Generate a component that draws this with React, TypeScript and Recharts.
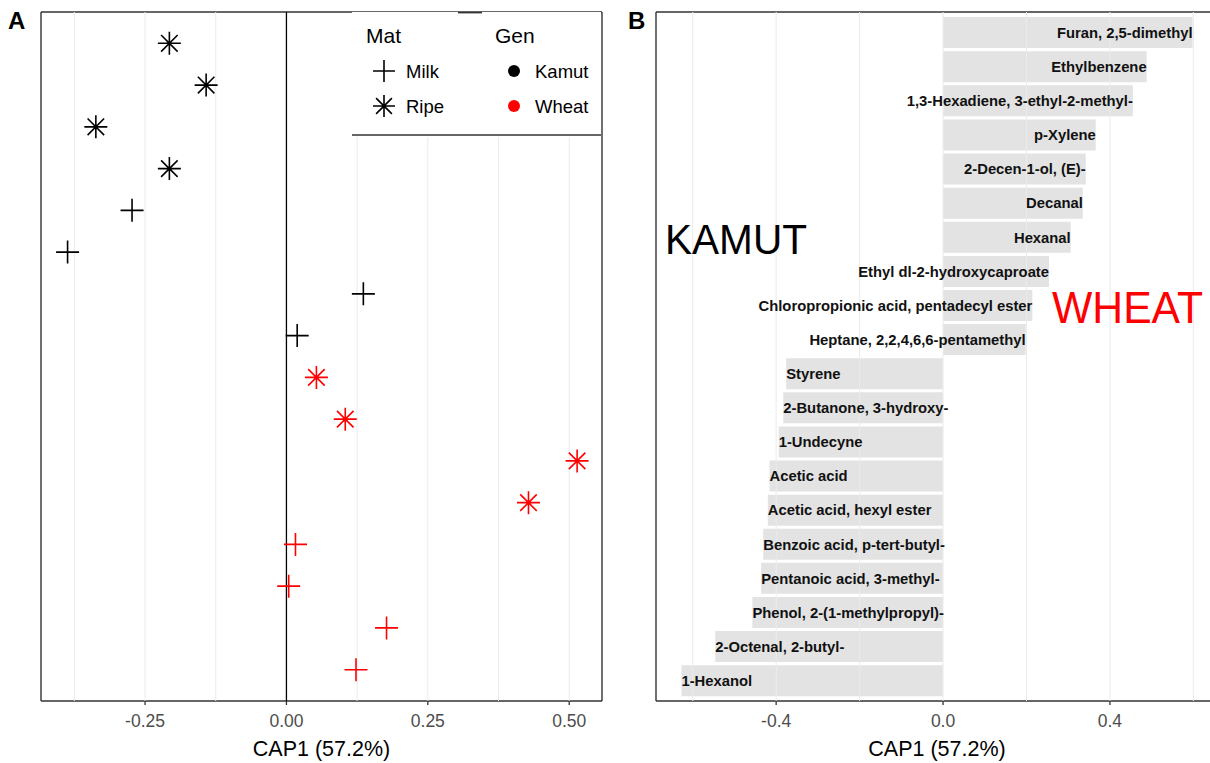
import React from 'react';
import {
  ScatterChart, Scatter, BarChart, Bar, XAxis, YAxis, CartesianGrid,
  ReferenceLine, Legend, LabelList,
} from 'recharts';

// Panel A: CAP1 score of each sample, listed top to bottom
const kamutRipe = [-0.207, -0.142, -0.337, -0.207];
const kamutMilk = [-0.273, -0.387, 0.136, 0.019];
const wheatRipe = [0.053, 0.104, 0.514, 0.428];
const wheatMilk = [0.016, 0.004, 0.177, 0.123];

const scoreTicks = [-0.25, 0, 0.25, 0.5];
const scoreMinor = [-0.375, -0.125, 0.125, 0.375];

// Panel B: loading of each compound on CAP1
const compounds = [
  'Furan, 2,5-dimethyl',
  'Ethylbenzene',
  '1,3-Hexadiene, 3-ethyl-2-methyl-',
  'p-Xylene',
  '2-Decen-1-ol, (E)-',
  'Decanal',
  'Hexanal',
  'Ethyl dl-2-hydroxycaproate',
  'Chloropropionic acid, pentadecyl ester',
  'Heptane, 2,2,4,6,6-pentamethyl',
  'Styrene',
  '2-Butanone, 3-hydroxy-',
  '1-Undecyne',
  'Acetic acid',
  'Acetic acid, hexyl ester',
  'Benzoic acid, p-tert-butyl-',
  'Pentanoic acid, 3-methyl-',
  'Phenol, 2-(1-methylpropyl)-',
  '2-Octenal, 2-butyl-',
  '1-Hexanol',
];
const loadings = [
  0.598, 0.488, 0.455, 0.366, 0.342, 0.335, 0.306, 0.254, 0.214, 0.198,
  -0.376, -0.383, -0.394, -0.416, -0.42, -0.431, -0.436, -0.457, -0.546, -0.627,
];
const loadTicks = [-0.4, 0, 0.4];
const loadMinor = [-0.6, -0.2, 0.2, 0.6];

const RED = '#ff0000';
const GRID = '#ebebeb';
const FRAME = '#333333';

const groups = [
  { values: kamutRipe, color: '#000000', ripe: true },
  { values: kamutMilk, color: '#000000', ripe: false },
  { values: wheatRipe, color: RED, ripe: true },
  { values: wheatMilk, color: RED, ripe: false },
];
let counter = 0;
const scoreRows = groups.map((g) => g.values.map((x) => ({ x, y: ++counter })));

const barRows = compounds.map((name, i) => ({ name, value: loadings[i] }));

const plusPath = (cx: number, cy: number, r: number) =>
  `M${cx - r},${cy}H${cx + r}M${cx},${cy - r}V${cy + r}`;
const starPath = (cx: number, cy: number, r: number) => {
  const d = r * 0.72;
  return plusPath(cx, cy, r) +
    `M${cx - d},${cy - d}L${cx + d},${cy + d}M${cx - d},${cy + d}L${cx + d},${cy - d}`;
};

const marker = (color: string, ripe: boolean) => (props: any) => {
  const { cx, cy } = props;
  if (cx == null || cy == null) return <g />;
  return (
    <path d={ripe ? starPath(cx, cy, 11.5) : plusPath(cx, cy, 11.5)}
      stroke={color} strokeWidth={1.6} fill="none" />
  );
};

const frameY = ({ offset }: any) => [offset.top, offset.top + offset.height];
const frameX = ({ offset }: any) => [offset.left, offset.left + offset.width];

const LegendBox = () => (
  <svg width={249} height={125} style={{ display: 'block' }}>
    <rect x={0} y={0} width={249} height={125} fill="#fff" />
    <line x1={106} x2={130} y1={0.7} y2={0.7} stroke={FRAME} strokeWidth={1.4} />
    <line x1={0} x2={249} y1={123} y2={123} stroke={FRAME} strokeWidth={1.6} />
    <text x={14} y={31} fontSize={21} fill="#000">Mat</text>
    <text x={143} y={31} fontSize={21} fill="#000">Gen</text>
    <path d={plusPath(32, 59, 11)} stroke="#000" strokeWidth={1.6} fill="none" />
    <path d={starPath(32, 94, 11)} stroke="#000" strokeWidth={1.6} fill="none" />
    <text x={54} y={65.5} fontSize={18.5} fill="#000">Milk</text>
    <text x={54} y={100.5} fontSize={18.5} fill="#000">Ripe</text>
    <circle cx={162} cy={59} r={6} fill="#000" />
    <circle cx={162} cy={94} r={6} fill={RED} />
    <text x={183} y={65.5} fontSize={18.5} fill="#000">Kamut</text>
    <text x={183} y={100.5} fontSize={18.5} fill="#000">Wheat</text>
  </svg>
);

const BarLabel = (props: any) => {
  const vb = props.viewBox || {};
  const x = Number(props.x ?? vb.x);
  const y = Number(props.y ?? vb.y);
  const w = Number(props.width ?? vb.width);
  const h = Number(props.height ?? vb.height);
  const lo = Math.min(x, x + w);
  const hi = Math.max(x, x + w);
  const positive = loadings[props.index] >= 0;
  return (
    <text x={positive ? hi : lo} y={y + h / 2} dy="0.36em"
      textAnchor={positive ? 'end' : 'start'}
      fontSize={14.8} fontWeight="bold" fill="#111">
      {props.value}
    </text>
  );
};

const tickStyle = { fill: '#4d4d4d', fontSize: 17.5 };
const titleLabel = { value: 'CAP1 (57.2%)', position: 'insideBottom' as const, offset: 7, fill: '#000', fontSize: 21.5 };

export default function App() {
  return (
    <div style={{
      position: 'absolute', left: 0, top: 0, width: 1210, height: 763, overflow: 'hidden',
      background: '#fff', fontFamily: '"Liberation Sans", Arial, sans-serif',
    }}>
      <div style={{ position: 'absolute', left: 0, top: 0 }}>
        <ScatterChart width={620} height={763} margin={{ top: 12, right: 18, bottom: 0, left: 41 }}>
          {scoreMinor.concat(scoreTicks).map((v) => (
            <ReferenceLine key={'g' + v} x={v} stroke={GRID} strokeWidth={1} />
          ))}
          <ReferenceLine x={0} stroke="#000" strokeWidth={1.3} />
          <CartesianGrid stroke={FRAME} strokeWidth={1.4}
            horizontalCoordinatesGenerator={frameY} verticalCoordinatesGenerator={frameX} />
          <XAxis type="number" dataKey="x" domain={[-0.434, 0.558]} allowDataOverflow
            ticks={scoreTicks} tickFormatter={(v: number) => v.toFixed(2)}
            axisLine={false} tickLine={{ stroke: FRAME, strokeWidth: 1.3 }} tickSize={4} tickMargin={10}
            tick={tickStyle} height={62} label={titleLabel} />
          <YAxis type="number" dataKey="y" domain={[0.25, 16.75]} reversed hide />
          {groups.map((g, i) => (
            <Scatter key={i} data={scoreRows[i]} fill={g.color}
              shape={marker(g.color, g.ripe)} isAnimationActive={false} />
          ))}
          <Legend layout="horizontal" verticalAlign="middle" align="center"
            wrapperStyle={{ top: 12, left: 352, width: 249, height: 125 }}
            content={() => <LegendBox />} />
        </ScatterChart>
      </div>

      <div style={{ position: 'absolute', left: 620, top: 0 }}>
        <BarChart width={600} height={763} layout="vertical" data={barRows}
          margin={{ top: 12, right: 2, bottom: 0, left: 36 }} barCategoryGap="5%">
          <CartesianGrid stroke={FRAME} strokeWidth={1.4}
            horizontalCoordinatesGenerator={frameY} verticalCoordinatesGenerator={frameX} />
          <XAxis type="number" domain={[-0.688, 0.659]} allowDataOverflow
            ticks={loadTicks} tickFormatter={(v: number) => v.toFixed(1)}
            axisLine={false} tickLine={{ stroke: FRAME, strokeWidth: 1.3 }} tickSize={4} tickMargin={10}
            tick={tickStyle} height={62} label={titleLabel} />
          <YAxis type="category" dataKey="name" hide padding={{ top: 3.4, bottom: 3.4 }} />
          <Bar dataKey="value" fill="#e3e3e3" isAnimationActive={false}>
            <LabelList dataKey="name" content={BarLabel} />
          </Bar>
          {loadMinor.concat(loadTicks).map((v) => (
            <ReferenceLine key={'g' + v} x={v} stroke={GRID} strokeWidth={1} />
          ))}
        </BarChart>
      </div>

      <svg width={1210} height={763} style={{ position: 'absolute', left: 0, top: 0, pointerEvents: 'none' }}>
        <text x={8} y={29} fontSize={24} fontWeight="bold" fill="#000">A</text>
        <text x={628} y={29} fontSize={24} fontWeight="bold" fill="#000">B</text>
        <text x={665} y={254} fontSize={43} fill="#000" textLength={142} lengthAdjust="spacingAndGlyphs">KAMUT</text>
        <text x={1052} y={322.5} fontSize={44} fill={RED} textLength={151} lengthAdjust="spacingAndGlyphs">WHEAT</text>
      </svg>
    </div>
  );
}
